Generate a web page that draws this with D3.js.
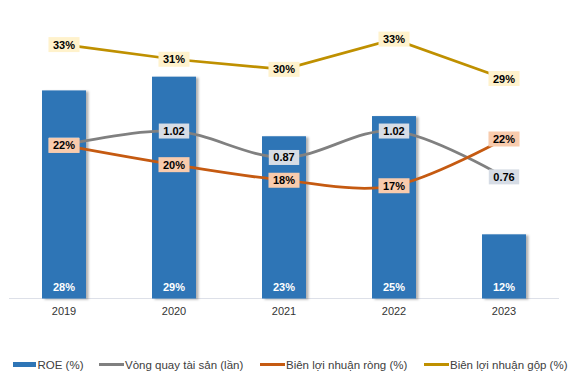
<!DOCTYPE html>
<html><head><meta charset="utf-8">
<script src="https://cdn.jsdelivr.net/npm/d3@7"></script>
<style>body{margin:0;background:#fff} text{font-family:"Liberation Sans",Arial,sans-serif}</style>
</head><body><svg id="c" width="568" height="377"></svg>
<script>
const years = ["2019", "2020", "2021", "2022", "2023"];
const roe = [27.7, 29.2, 22.7, 24.9, 12.0];
const assetTurnover = [0.94, 1.02, 0.87, 1.02, 0.76];
const netMargin = [21.7, 19.6, 17.9, 17.3, 22.4];
const grossMargin = [32.7, 31.1, 30.0, 33.3, 29.0];
const legendLabels = ["ROE (%)", "Vòng quay tài sản (lần)", "Biên lợi nhuận ròng (%)", "Biên lợi nhuận gộp (%)"];

const svg = d3.select("#c");
const x = d3.scaleBand().domain(years).range([9, 559]).paddingInner(0.6).paddingOuter(0.3);
const y = d3.scaleLinear().domain([5, 35]).range([298.5, 23.5]);
const y2 = d3.scaleLinear().domain([0.07, 1.63]).range([298.5, 23.5]);
const cx = d => x(d) + x.bandwidth() / 2;

const defs = svg.append("defs");
const f = defs.append("filter").attr("id", "sh").attr("x", "-20%").attr("y", "-5%").attr("width", "150%").attr("height", "110%");
f.append("feDropShadow").attr("dx", 2.5).attr("dy", 1).attr("stdDeviation", 1.2).attr("flood-color", "#000").attr("flood-opacity", 0.3);

// axis line
const xAxis = svg.append("g").attr("transform", "translate(0,298.5)")
  .call(d3.axisBottom(x).tickSize(0).tickPadding(9));
xAxis.select(".domain").attr("stroke", "#DDE0E8").attr("d", "M9,0H559");
xAxis.selectAll("text").attr("font-size", 11).attr("fill", "#333").attr("font-family", "Liberation Sans, Arial, sans-serif");

// bars
svg.append("g").selectAll("rect").data(years).join("rect")
  .attr("x", d => x(d)).attr("width", x.bandwidth())
  .attr("y", (d, i) => y(roe[i])).attr("height", (d, i) => y(5) - y(roe[i]))
  .attr("fill", "#2E75B6").attr("filter", "url(#sh)");

svg.append("g").selectAll("text").data(years).join("text")
  .attr("x", d => cx(d)).attr("y", 291).attr("text-anchor", "middle")
  .attr("font-size", 11).attr("font-weight", "bold").attr("fill", "#fff")
  .text((d, i) => d3.format(".0f")(roe[i]) + "%");

const smooth = d3.curveCatmullRom.alpha(0);
function drawLine(vals, sc, color, curve) {
  svg.append("path").datum(vals)
    .attr("d", d3.line().x((d, i) => cx(years[i])).y(d => sc(d)).curve(curve))
    .attr("fill", "none").attr("stroke", color).attr("stroke-width", 2.75).attr("stroke-linecap", "round");
}
drawLine(assetTurnover, y2, "#808080", smooth);
drawLine(netMargin, y, "#C55A11", smooth);
drawLine(grossMargin, y, "#BF9000", d3.curveLinear);

function drawLabels(vals, sc, bg, fmt) {
  const g = svg.append("g");
  vals.forEach((v, i) => {
    const gx = cx(years[i]), gy = sc(v);
    const lg = g.append("g");
    const r = lg.append("rect").attr("fill", bg);
    const t = lg.append("text").attr("x", gx).attr("y", gy + 4).attr("text-anchor", "middle")
      .attr("font-size", 11).attr("font-weight", "bold").attr("fill", "#000").text(fmt(v));
    const w = t.node().getComputedTextLength() + 9;
    r.attr("x", gx - w / 2).attr("y", gy - 7.5).attr("width", w).attr("height", 15);
  });
}
drawLabels(assetTurnover, y2, "#D6DCE5", v => d3.format(".2f")(v));
drawLabels(netMargin, y, "#F8CBAD", v => d3.format(".0f")(v) + "%");
drawLabels(grossMargin, y, "#FFF2CC", v => d3.format(".0f")(v) + "%");

// legend
const legendX = [13, 99, 260, 424];
const legendColors = ["#2E75B6", "#808080", "#C55A11", "#BF9000"];
const lg = svg.append("g");
legendLabels.forEach((lab, i) => {
  if (i === 0) lg.append("rect").attr("x", legendX[i]).attr("y", 362).attr("width", 23).attr("height", 5).attr("fill", legendColors[i]);
  else lg.append("line").attr("x1", legendX[i]).attr("x2", legendX[i] + 25).attr("y1", 364.5).attr("y2", 364.5)
    .attr("stroke", legendColors[i]).attr("stroke-width", 3);
  lg.append("text").attr("x", legendX[i] + (i === 0 ? 24.5 : 26)).attr("y", 368.5)
    .attr("font-size", 11.5).attr("fill", "#404040").text(lab);
});
</script></body></html>
